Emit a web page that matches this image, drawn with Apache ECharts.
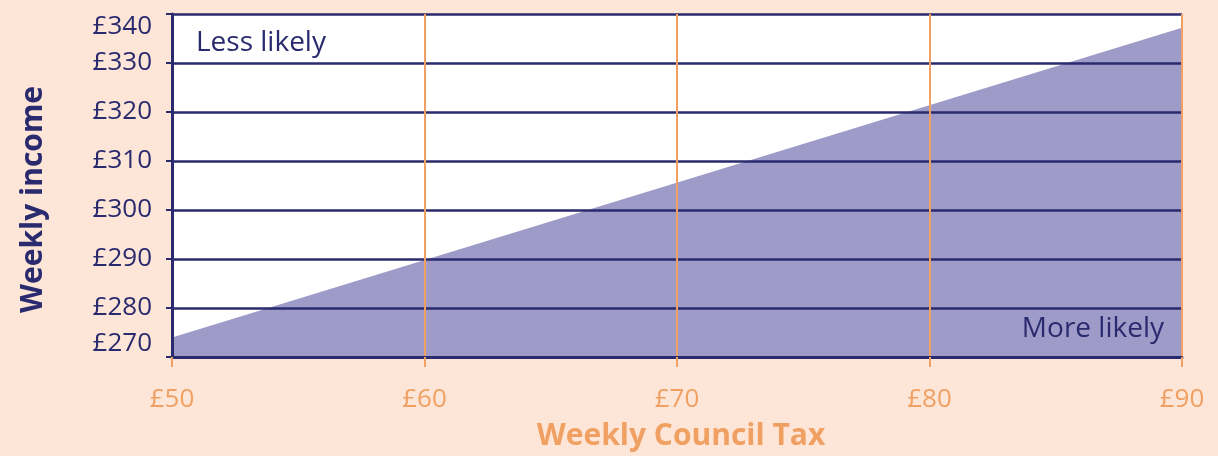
<!DOCTYPE html>
<html><head><meta charset="utf-8">
<script src="https://cdn.jsdelivr.net/npm/echarts@6/dist/echarts.min.js"></script>
<style>html,body{margin:0;padding:0;background:#fde6d7;}#c{width:1218px;height:456px;}</style>
</head><body><div id="c"></div>
<script>
const boundaryTax = [50, 90];
const boundaryIncome = [274, 337.2];
const xTicks = [50, 60, 70, 80, 90];
const yTicks = [270, 280, 290, 300, 310, 320, 330, 340];
const xTitle = 'Weekly Council Tax';
const yTitle = 'Weekly income';
const lessLabel = 'Less likely';
const moreLabel = 'More likely';

const navy = '#2a2a6e';
const orange = '#f0a062';
const font = '"Open Sans", "Noto Sans", sans-serif';

const chart = echarts.init(document.getElementById('c'));
chart.setOption({
  backgroundColor: '#fde6d7',
  animation: false,
  grid: { left: 172, right: 36, top: 14, bottom: 98, show: true, backgroundColor: '#ffffff', borderWidth: 0 },
  xAxis: {
    type: 'value', min: xTicks[0], max: xTicks[xTicks.length - 1], interval: 10, z: 3,
    name: xTitle, nameLocation: 'middle', nameGap: 64,
    nameTextStyle: { color: orange, fontSize: 30, fontWeight: 'bold', fontFamily: font, padding: [0, 0, 0, 8] },
    axisLine: { show: true, lineStyle: { color: navy, width: 3 } },
    axisTick: { show: true, length: 10, lineStyle: { color: orange, width: 2 } },
    axisLabel: { color: orange, fontSize: 26, margin: 30, fontFamily: font, formatter: v => '£' + v },
    splitLine: { show: true, lineStyle: { color: orange, width: 2 } }
  },
  yAxis: {
    type: 'value', min: yTicks[0], max: yTicks[yTicks.length - 1], interval: 10, z: 3,
    name: yTitle, nameLocation: 'middle', nameGap: 124, nameRotate: 90,
    nameTextStyle: { color: navy, fontSize: 30, fontWeight: 'bold', fontFamily: font, padding: [0, 28, 0, 0] },
    axisLine: { show: true, lineStyle: { color: navy, width: 3 } },
    axisTick: { show: true, length: 6, lineStyle: { color: navy, width: 2 } },
    axisLabel: { color: navy, fontSize: 26, margin: 20, fontFamily: font, formatter: v => '£' + v,
      verticalAlignMinLabel: 'bottom', verticalAlignMaxLabel: 'top' },
    splitLine: { show: true, lineStyle: { color: navy, width: 2.5 } }
  },
  series: [{
    type: 'line', z: 1,
    data: boundaryTax.map((t, i) => [t, boundaryIncome[i]]),
    symbol: 'none', lineStyle: { width: 0 },
    areaStyle: { color: '#9f9bc9', opacity: 1, origin: 'start' }
  }],
  graphic: [
    { type: 'text', left: 196, top: 29, z: 10, style: { text: lessLabel, fill: navy, fontSize: 28, fontFamily: font } },
    { type: 'text', right: 1218 - 1164, top: 315, z: 10, style: { text: moreLabel, fill: navy, fontSize: 28, fontFamily: font } }
  ]
});
</script></body></html>
